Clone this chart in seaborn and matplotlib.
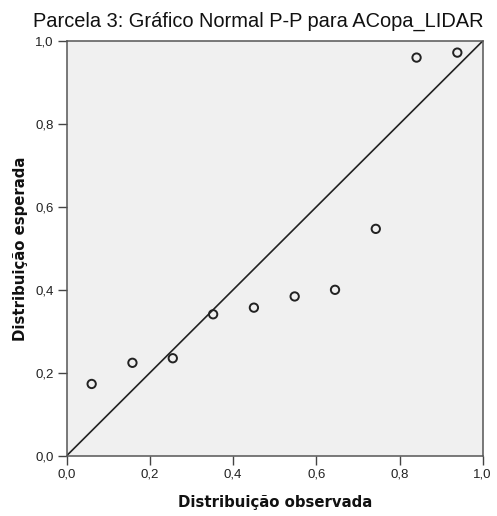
import matplotlib
matplotlib.use("Agg")
import matplotlib.pyplot as plt
import seaborn as sns
import pandas as pd
from matplotlib.ticker import FuncFormatter

# Data
observed = [0.060, 0.158, 0.255, 0.352, 0.450, 0.548, 0.645, 0.743, 0.841, 0.939]
expected = [0.173, 0.224, 0.235, 0.341, 0.357, 0.384, 0.400, 0.547, 0.960, 0.972]
ref_x = [0.0, 1.0]
ref_y = [0.0, 1.0]
tick_values = [0.0, 0.2, 0.4, 0.6, 0.8, 1.0]

title = "Parcela 3: Gráfico Normal P-P para ACopa_LIDAR"
xlabel = "Distribuição observada"
ylabel = "Distribuição esperada"

sns.set_theme(style="white")
plt.rcParams['font.family'] = ['Liberation Sans', 'DejaVu Sans']

df = pd.DataFrame({"obs": observed, "exp": expected})
ref = pd.DataFrame({"x": ref_x, "y": ref_y})

fig = plt.figure(figsize=(4.97, 5.16), dpi=100)
fig.patch.set_facecolor("white")
ax = fig.add_axes([66.7/497, 1-455.7/516, 416/497, 414.7/516])
ax.set_facecolor("#f0f0f0")

sns.lineplot(data=ref, x="x", y="y", ax=ax, color="#222222", linewidth=1.2)
sns.scatterplot(data=df, x="obs", y="exp", ax=ax, s=36, facecolor="none",
                edgecolor="#222222", linewidth=1.4, zorder=3)

ax.set_xlim(0, 1)
ax.set_ylim(0, 1)
ax.set_xticks(tick_values)
ax.set_yticks(tick_values)
fmt = FuncFormatter(lambda v, p: f"{v:.1f}".replace(".", ","))
ax.xaxis.set_major_formatter(fmt)
ax.yaxis.set_major_formatter(fmt)
ax.tick_params(axis="both", which="major", direction="out", length=6.5, width=1,
               color="#444444", labelsize=9.5, labelcolor="#222222", pad=3,
               bottom=True, left=True)
for sp in ax.spines.values():
    sp.set_visible(True)
    sp.set_color("#555555")
    sp.set_linewidth(1.1)

ax.set_xlabel(xlabel, fontsize=10.75, fontweight="bold", family="DejaVu Sans",
              color="#111111", labelpad=10)
ax.set_ylabel(ylabel, fontsize=10.75, fontweight="bold", family="DejaVu Sans",
              color="#111111", labelpad=5)

fig.text(258/497, 1-21/516, title, ha="center", va="center", fontsize=14.4,
         color="#111111")

fig.savefig("out.png", dpi=100)
